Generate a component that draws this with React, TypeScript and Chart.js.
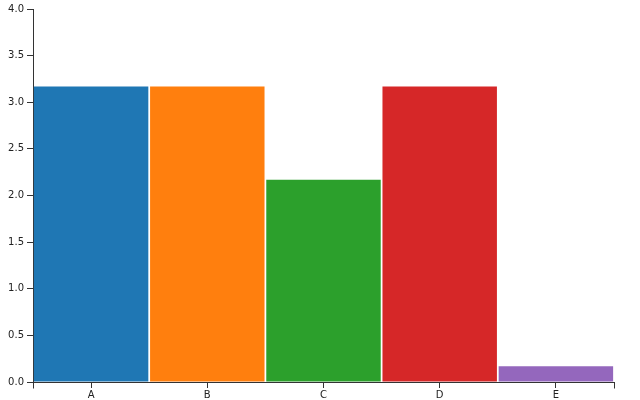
import React, { useEffect, useRef } from "react";
import { Chart, registerables } from "chart.js";

Chart.register(...registerables);

const categories = ["A", "B", "C", "D", "E"];
const values = [3.17, 3.17, 2.17, 3.17, 0.17];
const barColors = ["#1f77b4", "#ff7f0e", "#2ca02c", "#d62728", "#9467bd"];
const yMin = 0;
const yMax = 4;
const yStep = 0.5;

const AXIS = "#333";

const outerTicks = {
  id: "outerTicks",
  afterDraw(chart: any) {
    const { ctx, chartArea } = chart;
    ctx.save();
    ctx.strokeStyle = AXIS;
    ctx.lineWidth = 1;
    ctx.beginPath();
    const b = Math.round(chartArea.bottom) + 0.5;
    const l = Math.round(chartArea.left) + 0.5;
    const r = Math.round(chartArea.right) + 0.5;
    ctx.moveTo(l, b);
    ctx.lineTo(l, b + 6);
    ctx.moveTo(r, b);
    ctx.lineTo(r, b + 6);
    ctx.stroke();
    ctx.restore();
  },
};

export default function App() {
  const ref = useRef<HTMLCanvasElement>(null);
  useEffect(() => {
    if (!ref.current) return;
    const chart = new Chart(ref.current, {
      type: "bar",
      data: {
        labels: categories,
        datasets: [
          {
            data: values,
            backgroundColor: barColors,
            borderWidth: 0,
            barPercentage: 1,
            categoryPercentage: 0.985,
          },
        ],
      },
      options: {
        animation: false,
        responsive: false,
        maintainAspectRatio: false,
        layout: { padding: { top: 8, right: 26, left: 0, bottom: 0 } },
        plugins: { legend: { display: false }, tooltip: { enabled: false } },
        scales: {
          x: {
            grid: {
              display: true,
              drawOnChartArea: false,
              drawTicks: true,
              tickLength: 6,
              offset: false,
              color: AXIS,
            },
            border: { display: true, color: AXIS, width: 1 },
            ticks: {
              color: "#222",
              padding: 1,
              font: { family: "DejaVu Sans", size: 10 },
              maxRotation: 0,
            },
            afterFit(scale: any) {
              scale.height = 18;
            },
          },
          y: {
            min: yMin,
            max: yMax,
            grid: {
              display: true,
              drawOnChartArea: false,
              drawTicks: true,
              tickLength: 6,
              color: AXIS,
            },
            border: { display: true, color: AXIS, width: 1 },
            ticks: {
              stepSize: yStep,
              color: "#222",
              padding: 3,
              font: { family: "DejaVu Sans", size: 10 },
              callback: (v: any) => Number(v).toFixed(1),
            },
            afterFit(scale: any) {
              scale.width = 33;
            },
          },
        },
      },
      plugins: [outerTicks],
    });
    return () => chart.destroy();
  }, []);
  return (
    <div style={{ position: "fixed", left: 0, top: 0, width: 640, height: 400, background: "#fff" }}>
      <canvas ref={ref} width={640} height={400} style={{ width: 640, height: 400 }} />
    </div>
  );
}
